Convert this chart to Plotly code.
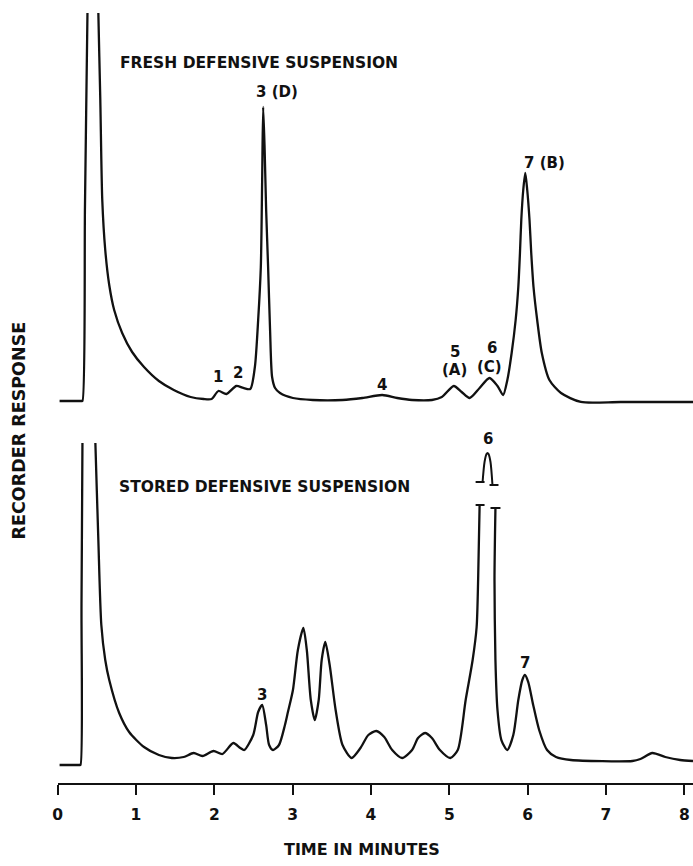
import plotly.graph_objects as go

# ---------------- data (time in minutes, recorder response in arbitrary units) -------------
fresh_time = [0.025, 0.304, 0.317, 0.349, 0.381, 0.400, 0.445, 0.500, 0.520, 0.545, 0.570,
              0.608, 0.659, 0.722, 0.824, 0.951, 1.103, 1.293, 1.483, 1.698, 1.863, 1.965,
              2.053, 2.155, 2.281, 2.370, 2.459, 2.518, 2.560, 2.594, 2.611, 2.624, 2.643,
              2.662, 2.687, 2.712, 2.738, 2.776, 2.839, 3.004, 3.257, 3.637, 3.891, 4.144,
              4.335, 4.525, 4.778, 4.905, 5.057, 5.158, 5.260, 5.387, 5.513, 5.615, 5.687,
              5.741, 5.796, 5.847, 5.881, 5.902, 5.919, 5.944, 5.970, 5.995, 6.024, 6.046,
              6.075, 6.122, 6.181, 6.278, 6.426, 6.679, 7.186, 8.111]
fresh_resp = [0, 0, 0, 194, 388, 480, 620, 480, 388, 301, 201,
              151, 116, 91, 68, 49, 34, 20, 11, 4, 2, 2,
              10, 7, 15, 13, 12, 34, 81, 134, 221, 294, 251,
              191, 134, 71, 24, 13, 8, 3, 1, 1, 3, 6,
              3, 1, 1, 4, 15, 9, 3, 13, 23, 15, 6,
              21, 48, 81, 114, 148, 181, 211, 228, 211, 181, 148,
              114, 81, 48, 21, 8, -1, -1, -1]

# stored sample: peak 6 is off scale (broken trace); None marks the break
stored_time = [0.025, 0.279, 0.292, 0.305, 0.317, 0.324, 0.385, 0.444, 0.482, 0.520, 0.558,
               0.608, 0.659, 0.786, 0.913, 1.103, 1.293, 1.458, 1.610, 1.736, 1.850, 1.990,
               2.104, 2.243, 2.332, 2.383, 2.497, 2.560, 2.611, 2.662, 2.700, 2.750, 2.826,
               2.902, 2.940, 3.004, 3.067, 3.137, 3.181, 3.232, 3.283, 3.333, 3.371, 3.417,
               3.473, 3.549, 3.637, 3.752, 3.866, 3.967, 4.068, 4.170, 4.271, 4.398, 4.525,
               4.601, 4.690, 4.778, 4.880, 5.013, 5.108, 5.209, 5.298, 5.349, 5.368, 5.387,
               None,
               5.589, 5.577, 5.589, 5.615, 5.665, 5.741, 5.817, 5.881, 5.932, 5.965, 6.008,
               6.071, 6.147, 6.248, 6.362, 6.553, 7.338, 7.440, 7.592, 7.757, 7.947, 8.111]
stored_resp = [0, 0, 0, 161, 322, 420, 560, 420, 322, 225, 140,
               105, 85, 52, 33, 18, 10, 7, 8, 12, 9, 14,
               11, 22, 17, 15, 30, 53, 60, 40, 20, 15, 20,
               40, 53, 75, 115, 137, 115, 65, 45, 65, 105, 123,
               100, 55, 20, 7, 17, 30, 34, 28, 15, 7, 15,
               27, 32, 27, 15, 7, 15, 65, 105, 138, 185, 260,
               None,
               257, 185, 105, 55, 25, 15, 30, 65, 85, 90, 83,
               60, 35, 15, 8, 5, 4, 6, 12, 8, 5, 4]

# reduced-scale top of the off-scale peak 6 and the break marks
cap_time = [5.425, 5.450, 5.475, 5.488, 5.501, 5.526, 5.551]
cap_resp = [283, 303, 311, 312, 311, 303, 280]
break_time = [5.336, 5.450, None, 5.526, 5.653, None, 5.336, 5.450, None, 5.514, 5.628]
break_resp = [260, 260, None, 257, 257, None, 283, 283, None, 280, 280]

tick_vals = [0, 1, 2, 3, 4, 5, 6, 7, 8]
tick_text = ["0", "1", "2", "3", "4", "5", "6", "7", "8"]

# peak labels: (text, time, response)
fresh_labels = [("1", 2.053, 24), ("2", 2.307, 28), ("3 (D)", 2.801, 309), ("4", 4.144, 16),
                ("5", 5.070, 49), ("(A)", 5.070, 31), ("6", 5.539, 53), ("(C)", 5.513, 34),
                ("7 (B)", 6.210, 238)]
stored_labels = [("3", 2.611, 70), ("7", 5.965, 102)]

INK = "#111111"
FONT = "DejaVu Sans"
LW = 2.3


def bold(size):
    return dict(family=FONT, size=size, color=INK, weight="bold")


fig = go.Figure()
fig.add_trace(go.Scatter(x=fresh_time, y=fresh_resp, xaxis="x", yaxis="y", mode="lines",
                         line=dict(color=INK, width=LW, shape="spline", smoothing=0.7),
                         hoverinfo="skip", showlegend=False))
fig.add_trace(go.Scatter(x=stored_time, y=stored_resp, xaxis="x", yaxis="y2", mode="lines",
                         connectgaps=False,
                         line=dict(color=INK, width=LW, shape="spline", smoothing=0.7),
                         hoverinfo="skip", showlegend=False))
fig.add_trace(go.Scatter(x=cap_time, y=cap_resp, xaxis="x", yaxis="y2", mode="lines",
                         line=dict(color=INK, width=2, shape="spline", smoothing=0.8),
                         hoverinfo="skip", showlegend=False))
fig.add_trace(go.Scatter(x=break_time, y=break_resp, xaxis="x", yaxis="y2", mode="lines",
                         connectgaps=False, line=dict(color=INK, width=2),
                         hoverinfo="skip", showlegend=False))

annos = []
for txt, t, r in fresh_labels:
    annos.append(dict(text=txt, x=t, y=r, xref="x", yref="y", showarrow=False,
                      xanchor="center", yanchor="middle", font=bold(15)))
for txt, t, r in stored_labels:
    annos.append(dict(text=txt, x=t, y=r, xref="x", yref="y2", showarrow=False,
                      xanchor="center", yanchor="middle", font=bold(15)))
annos.append(dict(text="6", x=5.488, y=312, xref="x", yref="y2", xanchor="center",
                  yanchor="bottom", yshift=3, showarrow=False, font=bold(15)))
annos.append(dict(text="FRESH DEFENSIVE SUSPENSION", x=0.3687, y=0.9273, xref="paper",
                  yref="paper", xanchor="center", yanchor="middle", showarrow=False,
                  font=bold(15.5)))
annos.append(dict(text="STORED DEFENSIVE SUSPENSION", x=0.3773, y=0.4376, xref="paper",
                  yref="paper", xanchor="center", yanchor="middle", showarrow=False,
                  font=bold(15.5)))
annos.append(dict(text="TIME IN MINUTES", x=0.5195, y=0.0185, xref="paper", yref="paper",
                  xanchor="center", yanchor="middle", showarrow=False, font=bold(16)))
annos.append(dict(text="RECORDER RESPONSE", x=0.021, y=0.5035, xref="paper", yref="paper",
                  xanchor="center", yanchor="middle", textangle=-90, showarrow=False,
                  font=bold(17.5)))

fig.update_layout(
    width=693, height=866, autosize=False,
    margin=dict(l=0, r=0, t=0, b=0),
    paper_bgcolor="white", plot_bgcolor="white",
    xaxis=dict(domain=[53 / 693, 1.0], range=[0, 8.111], anchor="free", position=0.0947,
               showline=True, linecolor=INK, linewidth=2, showgrid=False, zeroline=False,
               ticks="outside", ticklen=10, tickwidth=2, tickcolor=INK,
               tickvals=tick_vals, ticktext=tick_text, ticklabelstandoff=6,
               tickfont=bold(15.5), fixedrange=True),
    yaxis=dict(domain=[0.51501, 0.98499], range=[-19, 388], visible=False, fixedrange=True),
    yaxis2=dict(domain=[0.10508, 0.48845], range=[-10, 322], visible=False, fixedrange=True),
    annotations=annos,
)

fig.write_html("out.html")
